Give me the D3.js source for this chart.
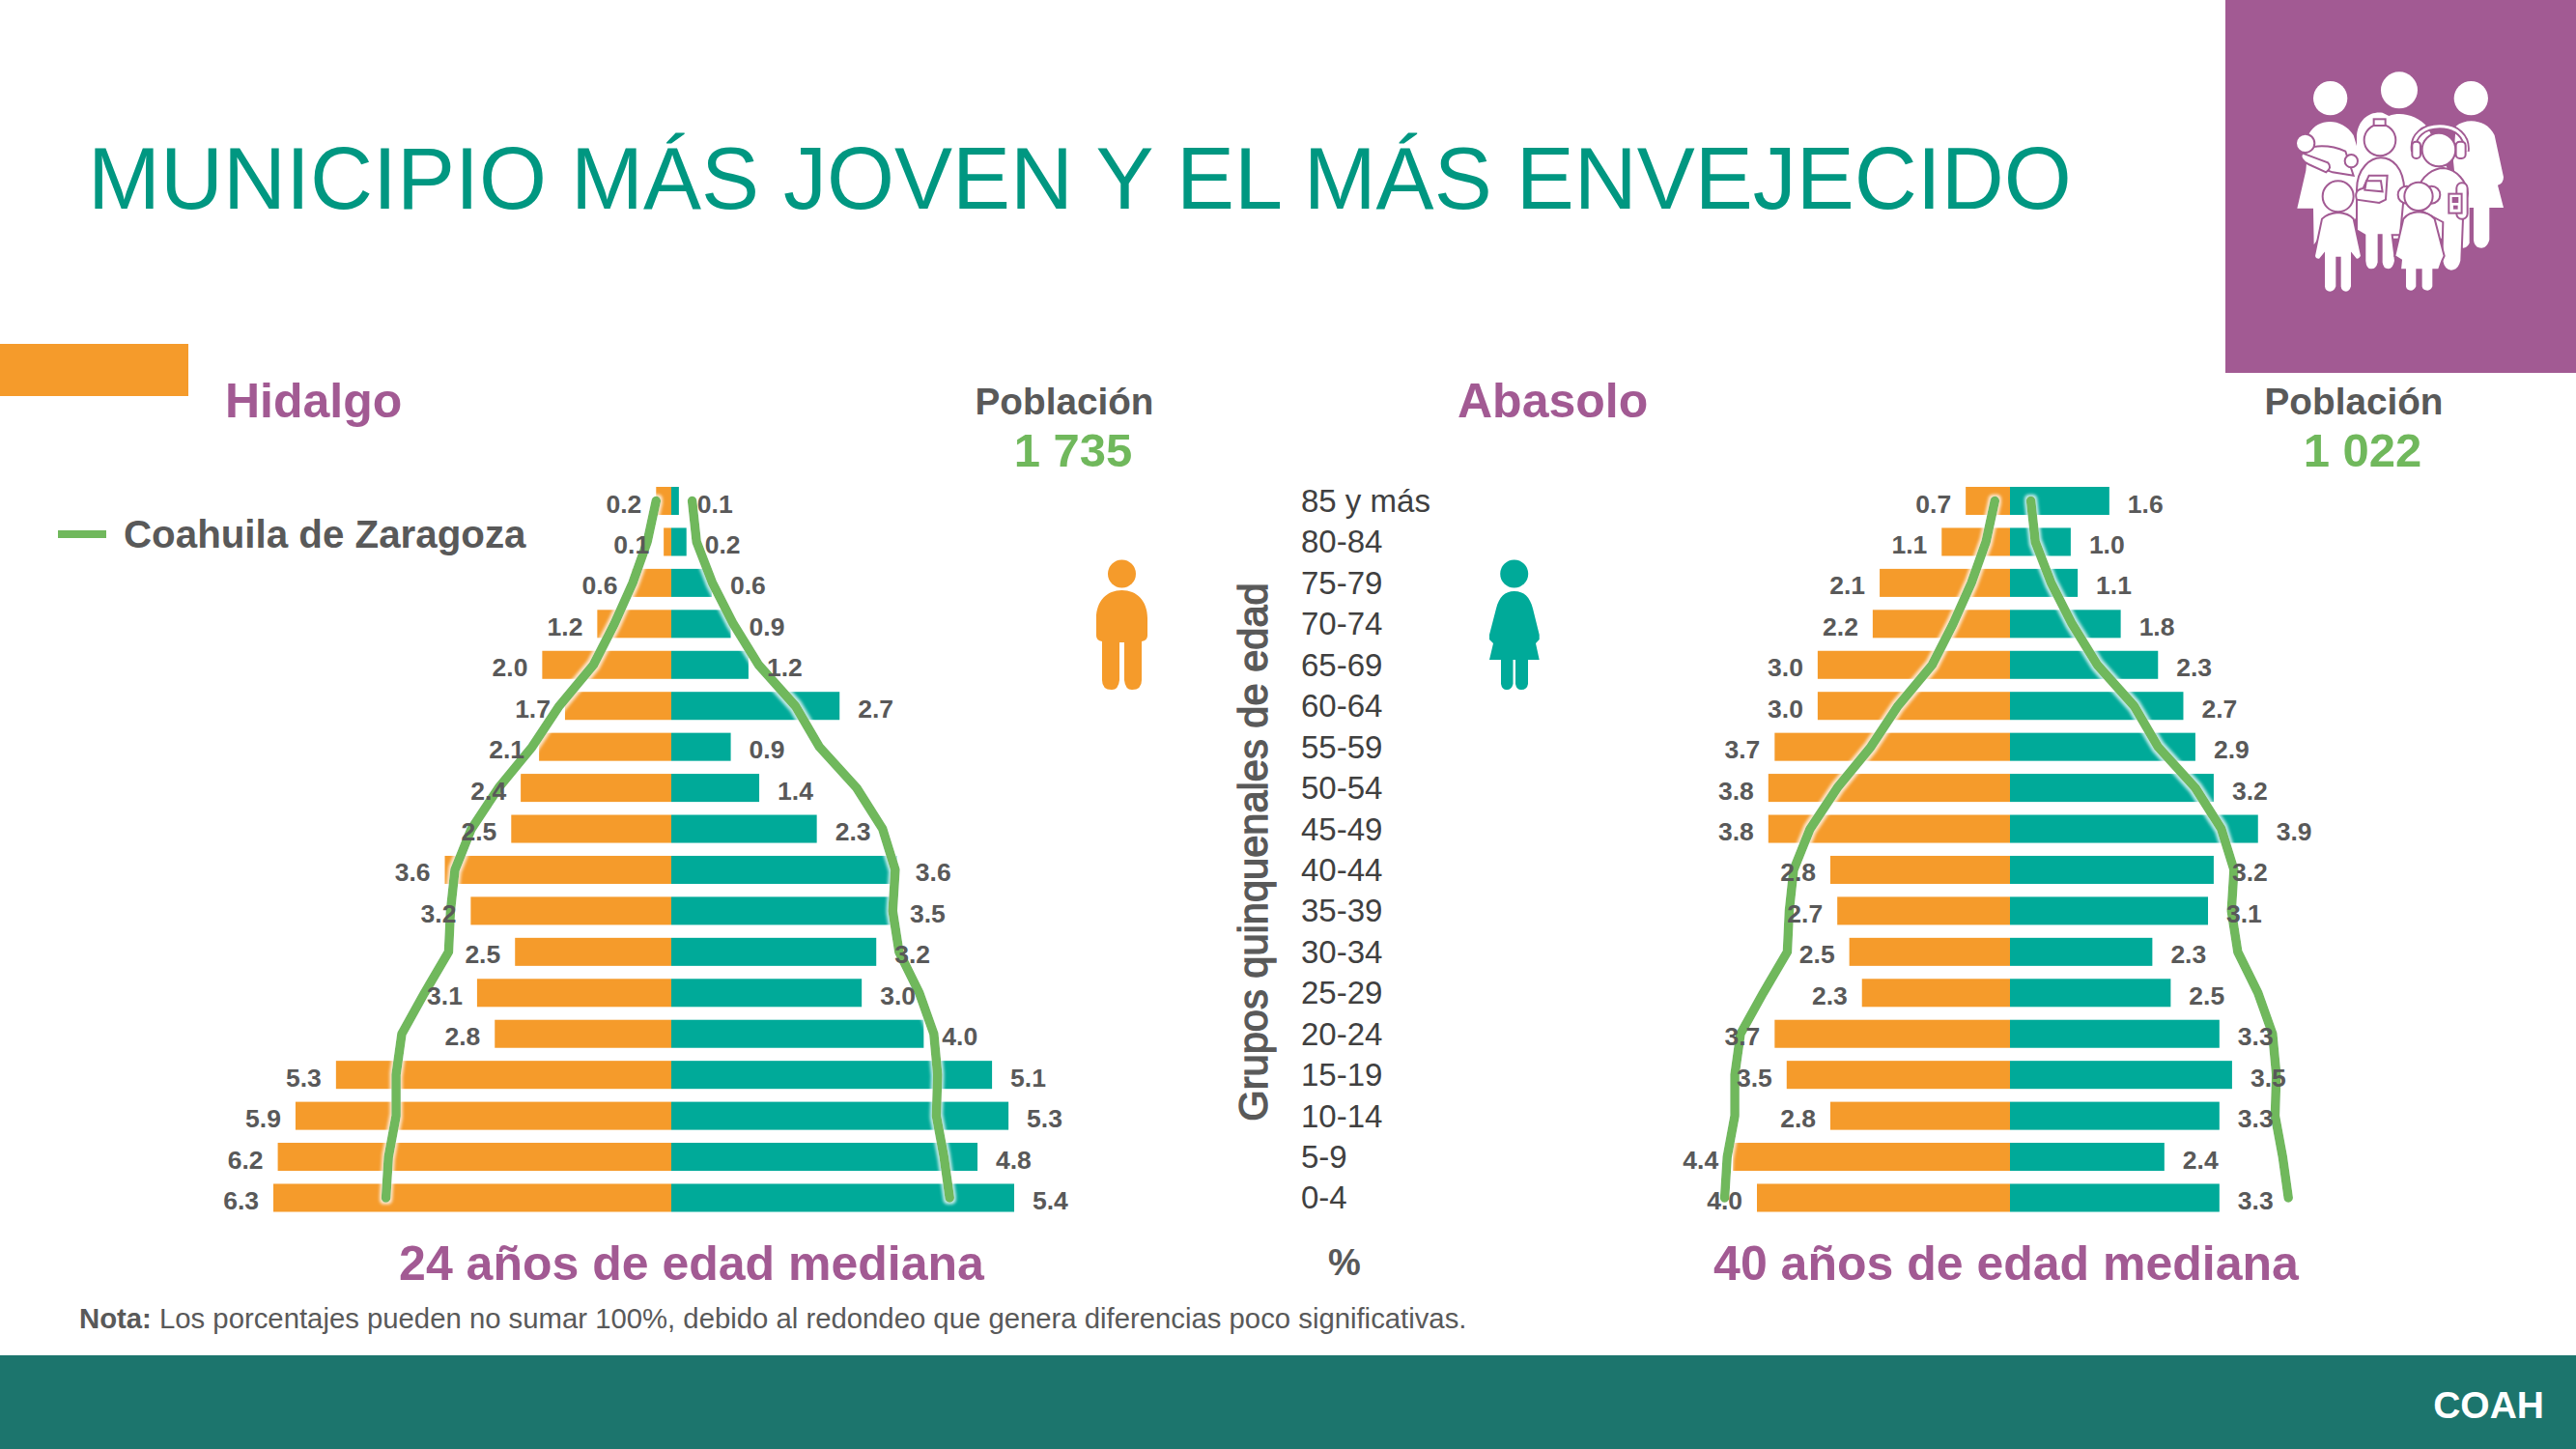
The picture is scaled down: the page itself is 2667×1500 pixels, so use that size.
<!DOCTYPE html>
<html>
<head>
<meta charset="utf-8">
<script src="https://d3js.org/d3.v7.min.js"></script>
<style>
  html, body { margin: 0; padding: 0; background: #fff; }
  svg { display: block; }
  text { font-family: "Liberation Sans", Arial, sans-serif; }
</style>
</head>
<body>
<svg id="chart" width="2667" height="1500"></svg>
<script>
var ages = ["85 y más","80-84","75-79","70-74","65-69","60-64","55-59","50-54","45-49","40-44","35-39","30-34","25-29","20-24","15-19","10-14","5-9","0-4"];

// hombres / mujeres por municipio
var hidalgoMen = [0.24,0.12,0.62,1.17,2.04,1.68,2.09,2.38,2.53,3.58,3.17,2.47,3.07,2.79,5.30,5.94,6.22,6.29];
var hidalgoWomen = [0.12,0.24,0.64,0.94,1.22,2.66,0.94,1.39,2.30,3.57,3.48,3.24,3.01,3.99,5.07,5.33,4.84,5.42];
var abasoloMen = [0.70,1.08,2.06,2.17,3.04,3.04,3.72,3.82,3.82,2.84,2.73,2.54,2.34,3.72,3.53,2.84,4.38,4.00];
var abasoloWomen = [1.57,0.96,1.07,1.75,2.34,2.74,2.93,3.22,3.92,3.22,3.13,2.25,2.54,3.31,3.51,3.31,2.44,3.31];

// Coahuila de Zaragoza (linea verde)
var stateMen = [0.24,0.38,0.61,0.90,1.23,1.77,2.20,2.73,3.16,3.42,3.49,3.52,3.90,4.26,4.35,4.35,4.47,4.51];
var stateWomen = [0.33,0.40,0.65,0.98,1.38,1.96,2.34,2.93,3.34,3.54,3.50,3.60,3.92,4.15,4.21,4.19,4.31,4.40];

var fmt = d3.format(".1f");
var svg = d3.select("#chart");

var orange = "#F59B2B", teal = "#00AA99", green = "#70B85C", purple = "#A25A93", gray = "#595959";

var glow = svg.append("defs").append("filter")
  .attr("id", "glow")
  .attr("x", "-20%").attr("y", "-5%")
  .attr("width", "140%").attr("height", "110%");
glow.append("feMorphology").attr("in", "SourceAlpha").attr("operator", "dilate").attr("radius", 1.5).attr("result", "fat");
glow.append("feGaussianBlur").attr("in", "fat").attr("stdDeviation", 1.6).attr("result", "blur");
glow.append("feFlood").attr("flood-color", "#fff").attr("flood-opacity", 0.75);
glow.append("feComposite").attr("in2", "blur").attr("operator", "in").attr("result", "halo");
var merge = glow.append("feMerge");
merge.append("feMergeNode").attr("in", "halo");
merge.append("feMergeNode").attr("in", "SourceGraphic");

// ---- fondo ----
svg.append("rect").attr("width", 2667).attr("height", 1500).attr("fill", "#fff");
svg.append("rect").attr("x", 2304).attr("y", 0).attr("width", 363).attr("height", 386).attr("fill", purple);
svg.append("rect").attr("x", 0).attr("y", 356).attr("width", 195).attr("height", 54).attr("fill", orange);
svg.append("rect").attr("x", 0).attr("y", 1403).attr("width", 2667).attr("height", 97).attr("fill", "#1C756D");

function addText(str, x, y, size, color, weight, anchor) {
  return svg.append("text")
    .attr("x", x)
    .attr("y", y)
    .attr("font-size", size)
    .attr("fill", color)
    .attr("font-weight", weight || "normal")
    .attr("text-anchor", anchor || "start")
    .text(str);
}

addText("MUNICIPIO MÁS JOVEN Y EL MÁS ENVEJECIDO", 91, 216, 90, "#009781");
addText("COAH", 2634, 1468, 39, "#fff", "bold", "end");
addText("Hidalgo", 233, 432, 50, purple, "bold");
addText("Abasolo", 1509, 432, 50, purple, "bold");
addText("Población", 1102, 429, 38.7, gray, "bold", "middle");
addText("Población", 2437, 429, 38.7, gray, "bold", "middle");
addText("1 735", 1111, 483, 49, green, "bold", "middle");
addText("1 022", 2446, 483, 49, green, "bold", "middle");
addText("24 años de edad mediana", 716, 1325, 50, purple, "bold", "middle");
addText("40 años de edad mediana", 2077, 1325, 50, purple, "bold", "middle");
addText("%", 1392, 1320, 38, gray, "bold", "middle");

var nota = addText("", 82, 1375, 29.3, gray);
nota.append("tspan").attr("font-weight", "bold").text("Nota:");
nota.append("tspan").text(" Los porcentajes pueden no sumar 100%, debido al redondeo que genera diferencias poco significativas.");

// ---- leyenda ----
svg.append("line")
  .attr("x1", 60).attr("x2", 110).attr("y1", 553).attr("y2", 553)
  .attr("stroke", green).attr("stroke-width", 8);
addText("Coahuila de Zaragoza", 128, 567, 40.3, gray, "bold");

// ---- escalas ----
var y = d3.scaleBand().domain(ages).range([504, 1254.5]).paddingInner(0.316);
var unit = 65.5;
var x = d3.scaleLinear().domain([0, 1]).range([0, unit]);

function drawPyramid(cx, men, women) {
  var g = svg.append("g").attr("transform", "translate(" + cx + ",0)");

  g.selectAll("rect.men").data(men).enter().append("rect")
    .attr("class", "men")
    .attr("x", function(d){ return -x(d); })
    .attr("y", function(d, i){ return y(ages[i]); })
    .attr("width", function(d){ return x(d); })
    .attr("height", y.bandwidth())
    .attr("fill", orange);

  g.selectAll("rect.women").data(women).enter().append("rect")
    .attr("class", "women")
    .attr("x", 0)
    .attr("y", function(d, i){ return y(ages[i]); })
    .attr("width", function(d){ return x(d); })
    .attr("height", y.bandwidth())
    .attr("fill", teal);

  var lineMen = d3.line()
    .x(function(d){ return -x(d); })
    .y(function(d, i){ return y(ages[i]) + y.bandwidth() / 2; });
  var lineWomen = d3.line()
    .x(function(d){ return x(d); })
    .y(function(d, i){ return y(ages[i]) + y.bandwidth() / 2; });

  [[stateMen, lineMen], [stateWomen, lineWomen]].forEach(function(s){
    g.append("path")
      .attr("d", s[1](s[0]))
      .attr("fill", "none")
      .attr("stroke", green)
      .attr("stroke-width", 9.5)
      .attr("stroke-linecap", "round")
      .attr("stroke-linejoin", "round")
      .attr("filter", "url(#glow)");
  });

  g.selectAll("text.men").data(men).enter().append("text")
    .attr("class", "men")
    .attr("x", function(d){ return -x(d) - 15; })
    .attr("y", function(d, i){ return y(ages[i]) + y.bandwidth() / 2 + 12; })
    .attr("text-anchor", "end")
    .attr("font-size", 26.5)
    .attr("font-weight", "bold")
    .attr("fill", gray)
    .text(function(d){ return fmt(d); });

  g.selectAll("text.women").data(women).enter().append("text")
    .attr("class", "women")
    .attr("x", function(d){ return x(d) + 19; })
    .attr("y", function(d, i){ return y(ages[i]) + y.bandwidth() / 2 + 12; })
    .attr("font-size", 26.5)
    .attr("font-weight", "bold")
    .attr("fill", gray)
    .text(function(d){ return fmt(d); });
}

drawPyramid(695, hidalgoMen, hidalgoWomen);
drawPyramid(2081, abasoloMen, abasoloWomen);

// ---- grupos de edad ----
var ageAxis = svg.append("g")
  .attr("transform", "translate(1347,0)")
  .call(d3.axisRight(y).tickSize(0).tickPadding(0));
ageAxis.select(".domain").remove();
ageAxis.selectAll("text")
  .attr("font-family", "Liberation Sans")
  .attr("font-size", 33)
  .attr("fill", "#404040")
  .attr("dy", 11.5);

svg.append("text")
  .attr("transform", "translate(1311.5,882) rotate(-90)")
  .attr("text-anchor", "middle")
  .attr("font-size", 41.6)
  .attr("stroke", gray)
  .attr("stroke-width", 1.3)
  .attr("fill", gray)
  .text("Grupos quinquenales de edad");

// ---- iconos hombre y mujer ----
var man = svg.append("g").attr("fill", orange);
man.append("circle").attr("cx", 1161.5).attr("cy", 594).attr("r", 14.5);
man.append("path").attr("d", "M1135,640 C1135,622 1146,611 1161.5,611 C1177,611 1188,622 1188,640 L1188,658 Q1188,663 1182,664 L1182,704 Q1182,714 1172,714 Q1165,714 1164,704 L1164,665 L1159,665 L1159,704 Q1158,714 1151,714 Q1141,714 1141,704 L1141,664 Q1135,663 1135,658 Z");

var woman = svg.append("g").attr("fill", teal);
woman.append("circle").attr("cx", 1567.7).attr("cy", 594).attr("r", 14.5);
woman.append("path").attr("d", "M1549,630 C1552,618 1558,612 1567.7,612 C1578,612 1584,618 1587,630 L1593.7,657 L1593.7,662 L1590,666 L1593.7,683 L1582,683 L1582,708 Q1581,714 1575,714 Q1570,714 1569,708 L1569,683 L1566.5,683 L1566.5,708 Q1565,714 1560,714 Q1555,714 1554,708 L1554,683 L1542,683 L1546,666 L1542,662 L1542,657 Z");

// ---- icono familia (coordenadas del recorte, escala 1/3) ----
var fam = svg.append("g")
  .attr("transform", "translate(2300,0) scale(0.3333)")
  .attr("fill", "#fff");

fam.append("circle").attr("cx", 338).attr("cy", 305).attr("r", 53);
fam.append("circle").attr("cx", 552).attr("cy", 280).attr("r", 57);
fam.append("circle").attr("cx", 775).attr("cy", 305).attr("r", 53);

// adultos de atras
fam.append("path").attr("d", "M272,415 C300,365 375,365 410,420 L440,520 L440,647 L400,700 L300,740 L287,760 L285,647 L235,647 L262,530 Z");
fam.append("path").attr("d", "M420,420 C425,370 460,345 500,350 L520,360 C560,345 610,360 640,395 L700,520 L690,740 L500,740 L420,560 Z");
fam.append("path").attr("d", "M728,392 C760,365 825,370 848,420 L876,550 Q876,570 858,575 L876,645 L832,645 L832,745 Q825,770 808,770 Q785,770 783,745 L783,645 L770,645 L770,755 Q762,772 748,770 L720,500 Z");

// bebe y brazos
var strokeProps = function(sel){ return sel.attr("stroke", purple).attr("stroke-width", 6); };
strokeProps(fam.append("path").attr("d", "M248,480 C255,450 330,445 385,470 L410,545 L345,535 L265,505 Z"));
strokeProps(fam.append("circle").attr("cx", 260).attr("cy", 445).attr("r", 29));
strokeProps(fam.append("path").attr("d", "M250,475 L330,505 Q345,520 325,535 L270,510 Q240,495 250,475 Z"));
strokeProps(fam.append("circle").attr("cx", 403).attr("cy", 500).attr("r", 20));

// adolescente con libros
strokeProps(fam.append("path").attr("d", "M420,590 C420,520 465,490 495,490 C530,490 565,520 568,590 L555,730 L530,730 L540,810 Q535,838 518,838 Q500,838 497,815 L497,730 L488,730 L488,815 Q483,838 465,838 Q447,838 445,810 L445,730 L420,715 Z"));
strokeProps(fam.append("circle").attr("cx", 492).attr("cy", 435).attr("r", 49));
strokeProps(fam.append("rect").attr("x", 473).attr("y", 370).attr("width", 36).attr("height", 20));
strokeProps(fam.append("path").attr("d", "M458,545 L515,545 L510,620 L490,630 L420,620 Q410,590 440,585 Z"));
strokeProps(fam.append("path").attr("d", "M450,562 L495,562 L500,595 L445,590 Z"));

// adolescente con audifonos
strokeProps(fam.append("path").attr("d", "M610,590 C620,545 660,522 690,522 C730,525 762,565 765,600 L750,680 L745,810 Q738,842 713,842 Q690,840 685,810 L688,690 L612,650 Z"));
fam.append("path").attr("d", "M598,470 C590,420 630,392 678,392 C730,392 765,425 760,470")
  .attr("fill", "none").attr("stroke", purple).attr("stroke-width", 20);
fam.append("path").attr("d", "M598,470 C590,420 630,392 678,392 C730,392 765,425 760,470")
  .attr("fill", "none").attr("stroke", "#fff").attr("stroke-width", 9);
strokeProps(fam.append("circle").attr("cx", 675).attr("cy", 465).attr("r", 52));
strokeProps(fam.append("rect").attr("x", 592).attr("y", 440).attr("width", 26).attr("height", 52).attr("rx", 12));
strokeProps(fam.append("rect").attr("x", 728).attr("y", 440).attr("width", 30).attr("height", 52).attr("rx", 12));
strokeProps(fam.append("rect").attr("x", 730).attr("y", 568).attr("width", 34).attr("height", 112).attr("rx", 16));
strokeProps(fam.append("rect").attr("x", 706).attr("y", 602).attr("width", 40).attr("height", 60));
fam.append("rect").attr("x", 716).attr("y", 612).attr("width", 20).attr("height", 18).attr("fill", purple);
fam.append("rect").attr("x", 720).attr("y", 638).attr("width", 14).attr("height", 12).attr("fill", purple);

// nino
strokeProps(fam.append("path").attr("d", "M312,680 Q330,662 362,660 Q395,662 410,680 L435,795 Q430,808 418,806 L405,790 L405,890 Q400,908 387,908 Q370,908 368,890 L368,800 L358,800 L358,890 Q352,908 337,908 Q320,908 318,890 L318,790 L305,806 Q290,808 288,795 Z"));
strokeProps(fam.append("circle").attr("cx", 362).attr("cy", 610).attr("r", 48));

// nina
strokeProps(fam.append("path").attr("d", "M565,680 Q580,660 612,658 Q645,660 662,680 L692,795 L685,810 L675,838 L658,838 L658,890 Q652,905 640,905 Q622,905 620,890 L620,838 L607,838 L607,890 Q600,905 588,905 Q572,905 570,890 L570,838 L555,838 L558,808 L538,795 Z"));
strokeProps(fam.append("circle").attr("cx", 575).attr("cy", 605).attr("r", 27));
strokeProps(fam.append("circle").attr("cx", 652).attr("cy", 605).attr("r", 27));
strokeProps(fam.append("circle").attr("cx", 612).attr("cy", 610).attr("r", 44));
</script>
</body>
</html>
